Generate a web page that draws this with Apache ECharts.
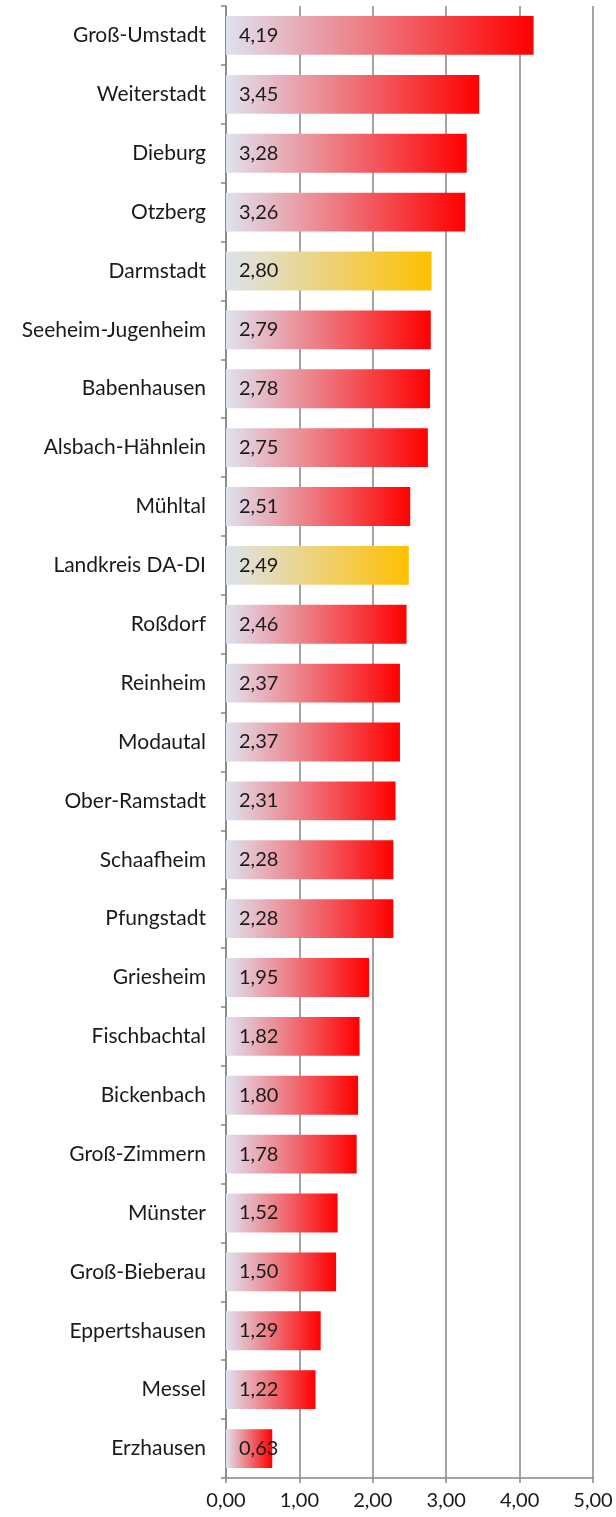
<!DOCTYPE html>
<html>
<head>
<meta charset="utf-8">
<script src="https://cdn.jsdelivr.net/npm/echarts@6/dist/echarts.min.js"></script>
<style>
  html, body { margin: 0; padding: 0; background: #fff; }
  #chart { width: 616px; height: 1517px; }
</style>
</head>
<body>
<div id="chart"></div>
<script>
const places = ['Groß-Umstadt', 'Weiterstadt', 'Dieburg', 'Otzberg', 'Darmstadt', 'Seeheim-Jugenheim',
  'Babenhausen', 'Alsbach-Hähnlein', 'Mühltal', 'Landkreis DA-DI', 'Roßdorf', 'Reinheim', 'Modautal',
  'Ober-Ramstadt', 'Schaafheim', 'Pfungstadt', 'Griesheim', 'Fischbachtal', 'Bickenbach', 'Groß-Zimmern',
  'Münster', 'Groß-Bieberau', 'Eppertshausen', 'Messel', 'Erzhausen']
const rates = [4.19, 3.45, 3.28, 3.26, 2.80, 2.79, 2.78, 2.75, 2.51, 2.49, 2.46, 2.37, 2.37,
  2.31, 2.28, 2.28, 1.95, 1.82, 1.80, 1.78, 1.52, 1.50, 1.29, 1.22, 0.63]
// Referenzwerte (Stadt Darmstadt und Landkreis) werden gelb hervorgehoben
const highlighted = ['Darmstadt', 'Landkreis DA-DI']

const fmt = (v) => v.toFixed(2).replace('.', ',')
const font = 'Lato'

const redFill = new echarts.graphic.LinearGradient(0, 0, 1, 0, [
  { offset: 0, color: '#dfe2f0' },
  { offset: 1, color: '#ff0000' }
])
const goldFill = new echarts.graphic.LinearGradient(0, 0, 1, 0, [
  { offset: 0, color: '#dde3ee' },
  { offset: 1, color: '#ffc000' }
])

const chart = echarts.init(document.getElementById('chart'))
chart.setOption({
  animation: false,
  grid: { left: 226, right: 23, top: 6, bottom: 39 },
  xAxis: {
    type: 'value',
    min: 0,
    max: 5,
    interval: 1,
    axisLine: { show: true, lineStyle: { color: '#868686', width: 1.5 } },
    axisTick: { show: true, length: 5, lineStyle: { color: '#868686', width: 1.5 } },
    axisLabel: { formatter: fmt, color: '#1a1a1a', fontSize: 20, fontFamily: font, margin: 13 },
    splitLine: { show: true, lineStyle: { color: '#868686', width: 1.5 } }
  },
  yAxis: {
    type: 'category',
    inverse: true,
    data: places,
    axisLine: { show: true, lineStyle: { color: '#868686', width: 1.5 } },
    axisTick: { show: true, length: 5, lineStyle: { color: '#868686', width: 1.5 } },
    axisLabel: { color: '#1a1a1a', fontSize: 21, fontFamily: font, margin: 20 }
  },
  series: [
    {
      type: 'bar',
      barWidth: '66%',
      data: rates.map((v, i) => ({
        value: v,
        itemStyle: { color: highlighted.includes(places[i]) ? goldFill : redFill }
      })),
      label: {
        show: true,
        position: 'insideLeft',
        distance: 13,
        formatter: (p) => fmt(p.value),
        color: '#1a1a1a',
        fontSize: 20,
        fontFamily: font
      }
    }
  ]
})
</script>
</body>
</html>
